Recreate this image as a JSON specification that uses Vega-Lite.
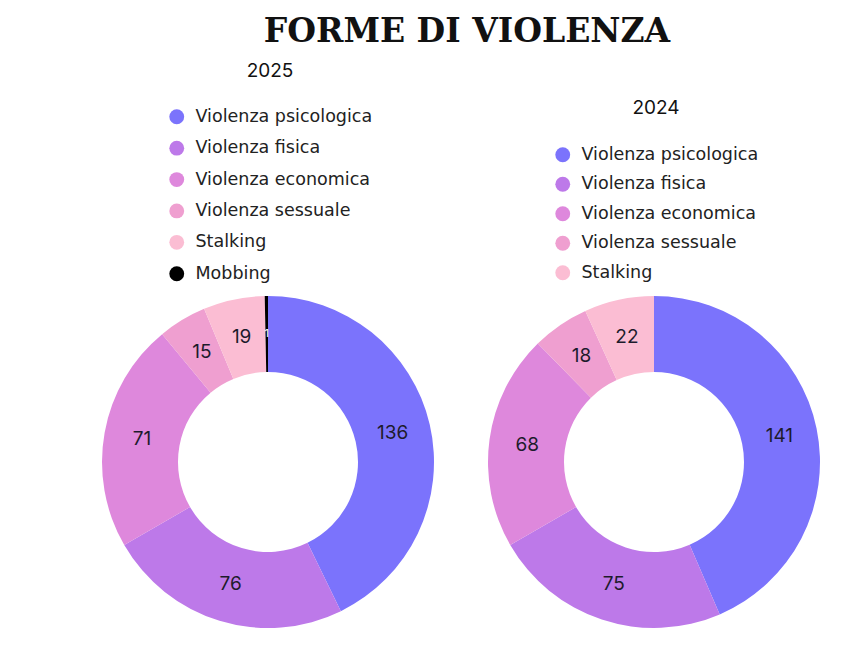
{
  "$schema": "https://vega.github.io/schema/vega-lite/v6.json",
  "background": "white",
  "padding": {"left": 88, "top": 16, "right": 5, "bottom": 20},
  "title": {"text": "FORME DI VIOLENZA", "font": "DejaVu Serif", "fontSize": 33, "fontWeight": "bold", "color": "#111111", "anchor": "middle", "offset": 13, "dx": 6},
  "spacing": 26,
  "bounds": "flush",
  "config": {"view": {"stroke": null}},
  "hconcat": [
    {
      "width": 360,
      "height": 340,
      "data": {"values": [
        {"tipo": "Violenza psicologica", "n": 136},
        {"tipo": "Violenza fisica", "n": 76},
        {"tipo": "Violenza economica", "n": 71},
        {"tipo": "Violenza sessuale", "n": 15},
        {"tipo": "Stalking", "n": 19},
        {"tipo": "Mobbing", "n": 1}
      ]},
      "transform": [{"calculate": "indexof(['Violenza psicologica','Violenza fisica','Violenza economica','Violenza sessuale','Stalking','Mobbing'], datum.tipo)", "as": "k"}],
      "encoding": {
        "theta": {"field": "n", "type": "quantitative", "stack": true},
        "order": {"field": "k", "type": "quantitative"}
      },
      "layer": [
        {
          "mark": {"type": "arc", "innerRadius": 90, "outerRadius": 166},
          "encoding": {
            "color": {
              "field": "tipo", "type": "nominal",
              "scale": {"domain": ["Violenza psicologica", "Violenza fisica", "Violenza economica", "Violenza sessuale", "Stalking", "Mobbing"],
                        "range": ["#7b73fc", "#bd79e9", "#de88dc", "#ef9fd0", "#fbbdd3", "#000000"]},
              "legend": {"orient": "none", "legendX": 80, "legendY": -230, "title": "2025", "titleFont": "Inter", "titleFontSize": 19, "titleFontWeight": "normal", "titleColor": "#111111", "titleAnchor": "middle", "titlePadding": 27, "labelFont": "DejaVu Sans", "labelFontSize": 17.5, "labelColor": "#222222", "labelOffset": 10, "symbolType": "circle", "symbolSize": 220, "symbolStrokeWidth": 0, "rowPadding": 12.4, "labelLimit": 300}
            }
          }
        },
        {
          "mark": {"type": "text", "radius": 128, "font": "Inter"},
          "encoding": {
            "text": {"field": "n", "type": "quantitative"},
            "detail": {"field": "tipo"},
            "color": {"condition": {"test": "datum.tipo === 'Mobbing'", "value": "white"}, "value": "#1d1b2c"},
            "size": {"condition": {"test": "datum.tipo === 'Mobbing'", "value": 11}, "value": 19}
          }
        }
      ]
    },
    {
      "width": 360,
      "height": 340,
      "data": {"values": [
        {"tipo": "Violenza psicologica", "n": 141},
        {"tipo": "Violenza fisica", "n": 75},
        {"tipo": "Violenza economica", "n": 68},
        {"tipo": "Violenza sessuale", "n": 18},
        {"tipo": "Stalking", "n": 22}
      ]},
      "transform": [{"calculate": "indexof(['Violenza psicologica','Violenza fisica','Violenza economica','Violenza sessuale','Stalking'], datum.tipo)", "as": "k"}],
      "encoding": {
        "theta": {"field": "n", "type": "quantitative", "stack": true},
        "order": {"field": "k", "type": "quantitative"}
      },
      "layer": [
        {
          "mark": {"type": "arc", "innerRadius": 90, "outerRadius": 166},
          "encoding": {
            "color": {
              "field": "tipo", "type": "nominal",
              "scale": {"domain": ["Violenza psicologica", "Violenza fisica", "Violenza economica", "Violenza sessuale", "Stalking"],
                        "range": ["#7b73fc", "#bd79e9", "#de88dc", "#ef9fd0", "#fbbdd3"]},
              "legend": {"orient": "none", "legendX": 80, "legendY": -193, "title": "2024", "titleFont": "Inter", "titleFontSize": 19, "titleFontWeight": "normal", "titleColor": "#111111", "titleAnchor": "middle", "titlePadding": 28, "labelFont": "DejaVu Sans", "labelFontSize": 17.5, "labelColor": "#222222", "labelOffset": 10, "symbolType": "circle", "symbolSize": 220, "symbolStrokeWidth": 0, "rowPadding": 10.5, "labelLimit": 300}
            }
          }
        },
        {
          "mark": {"type": "text", "radius": 128, "font": "Inter", "fontSize": 19},
          "encoding": {
            "text": {"field": "n", "type": "quantitative"},
            "detail": {"field": "tipo"},
            "color": {"value": "#1d1b2c"}
          }
        }
      ]
    }
  ],
  "resolve": {"scale": {"color": "independent"}, "legend": {"color": "independent"}}
}
